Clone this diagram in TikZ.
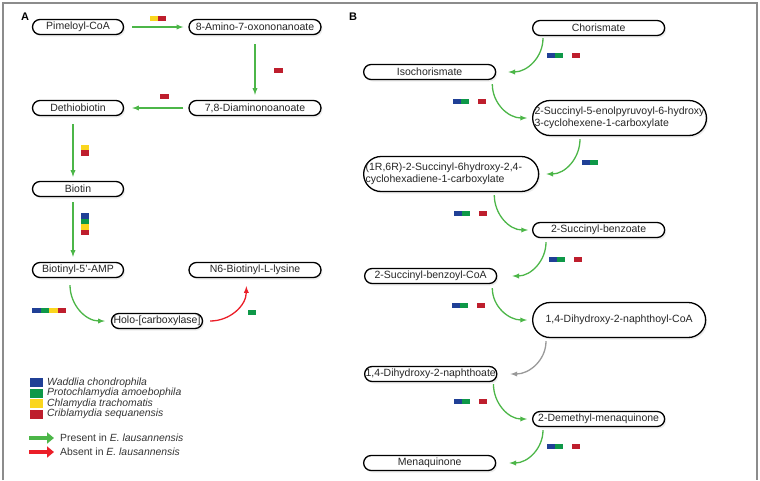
\documentclass[tikz,border=0pt]{standalone}
\usepackage{fontspec}
\setmainfont{Liberation Sans}
\usetikzlibrary{arrows, arrows.meta, positioning, shadows}
\definecolor{flowgreen}{RGB}{76,182,72}
\definecolor{lostred}{RGB}{235,30,40}
\definecolor{wblue}{RGB}{32,64,150}
\definecolor{pgreen}{RGB}{14,152,72}
\definecolor{cyellow}{RGB}{250,214,30}
\definecolor{cred}{RGB}{190,30,45}
\tikzset{
  met/.style     = {draw, rectangle, rounded corners=7.5pt, line width=1.3pt, minimum height=15pt, minimum width=91pt, inner xsep=1pt, inner ysep=0pt, fill=white, text=black!85, font=\fontsize{10.5}{11.5}\selectfont, drop shadow={opacity=0.15, shadow xshift=1.5pt, shadow yshift=-2pt}},
  widemet/.style = {met, minimum width=132pt},
  bigmet/.style  = {met, minimum height=35pt, minimum width=173pt, rounded corners=17.5pt},
  twomet/.style  = {bigmet, align=left, inner xsep=2pt},
  flow/.style    = {-latex, line width=1.3pt, flowgreen},
  lost/.style    = {flow, lostred},
  unknown/.style = {flow, black!40},
  keyarrow/.style = {line width=4.5pt, -{Triangle[length=7pt, width=11pt]}},
  legtext/.style = {anchor=west, inner sep=0pt, text=black!80, font=\fontsize{10.4}{12}\selectfont},
  panel/.style   = {inner sep=0pt, font=\fontsize{11}{13}\selectfont\bfseries},
  frame/.style   = {line width=1.5pt, black!45},
}
\begin{document}
\begin{tikzpicture}[x=1pt, y=-1pt, node distance=81pt]
    \useasboundingbox (0,0) rectangle (760,480);
    \draw [frame] (3,480) -- (3,3) -- (757,3) -- (757,480);
    \node (labA) [panel] at (25,17) {A};
    \node (labB) [panel] at (353,17) {B};

    % A: biotin
    \node (pim) [met] at (78,27) {Pimeloyl-CoA};
    \node (kapa) [widemet, right of=pim, xshift=96pt] {8-Amino-7-oxononanoate};
    \node (dapa) [widemet, below of=kapa] {7,8-Diaminonoanoate};
    \node (dtb) [met, below of=pim] {Dethiobiotin};
    \node (btn) [met, below of=dtb] {Biotin};
    \node (amp) [met, below of=btn] {Biotinyl-5'-AMP};
    \node (lys) [widemet, right of=amp, xshift=96pt] {N6-Biotinyl-L-lysine};
    \node (holo) [met, below of=amp, xshift=79pt, yshift=30pt] {Holo-[carboxylase]};

    \draw [flow, shorten <=8pt, shorten >=5pt] (pim) -- (kapa);
    \draw [flow, shorten <=9pt, shorten >=5pt] (kapa) -- (dapa);
    \draw [flow, shorten <=5pt, shorten >=8pt] (dapa) -- (dtb);
    \draw [flow, shorten <=8pt, shorten >=4pt] ([xshift=-5pt]dtb.south) -- ([xshift=-5pt]btn.north);
    \draw [flow, shorten <=5pt, shorten >=5pt] ([xshift=-5pt]btn.south) -- ([xshift=-5pt]amp.north);
    \draw [flow] ([xshift=-8pt,yshift=-7pt]amp.south) to [out=-90, in=180] ([xshift=-6pt]holo.west);
    \draw [lost] ([xshift=7pt]holo.east) to [out=0, in=-90] ([xshift=58pt,yshift=-8pt]lys.south west);

    \fill [cyellow] (150,16) rectangle ++(8,5);
    \fill [cred] (158,16) rectangle ++(8,5);
    \fill [cred] (274,68) rectangle ++(9,5);
    \fill [cred] (160,94) rectangle ++(9,5);
    \fill [cyellow] (81,145) rectangle ++(8,5);
    \fill [cred] (81,150) rectangle ++(8,5.5);
    \foreach \c [count=\i from 0] in {wblue,pgreen,cyellow,cred} {
        \fill [\c] (81,213+5.5*\i) rectangle ++(8,5.5);
        \fill [\c] (32+8.5*\i,308) rectangle ++(8.5,5);
    }
    \fill [pgreen] (248,310) rectangle ++(8,5);

    % legend
    \foreach \c/\name [count=\i from 0] in {wblue/Waddlia chondrophila, pgreen/Protochlamydia amoebophila, cyellow/Chlamydia trachomatis, cred/Criblamydia sequanensis} {
        \fill [\c] (30,378+10.5*\i) rectangle ++(13,9);
        \node (key\i) [legtext] at (47,382.5+10.5*\i) {\itshape\name};
    }
    \coordinate (gtail) at (29,438);
    \coordinate (rtail) at (29,452);
    \node (present) [legtext] at (60,438) {Present in \textit{E. lausannensis}};
    \node (absent) [legtext] at (60,452) {Absent in \textit{E. lausannensis}};
    \draw [keyarrow, flowgreen] (gtail) -- ([xshift=-6pt]present.west |- gtail);
    \draw [keyarrow, lostred] (rtail) -- ([xshift=-6pt]absent.west |- rtail);

    % B: menaquinone
    \node (chor) [widemet, anchor=west] at (532,28) {Chorismate};
    \node (iso) [widemet, anchor=west] at (363,72) {Isochorismate};
    \node (sephc) [twomet, anchor=west] at (532,118) {2-Succinyl-5-enolpyruvoyl-6-hydroxy\\3-cyclohexene-1-carboxylate};
    \node (shchc) [twomet, text width=171pt, anchor=west] at (363,174) {(1R,6R)-2-Succinyl-6hydroxy-2,4-\\cyclohexadiene-1-carboxylate};
    \node (osb) [widemet, anchor=west] at (532,230) {2-Succinyl-benzoate};
    \node (osbcoa) [widemet, anchor=west] at (364,276) {2-Succinyl-benzoyl-CoA};
    \node (dhnacoa) [bigmet, anchor=west] at (532,320) {1,4-Dihydroxy-2-naphthoyl-CoA};
    \node (dhna) [widemet, anchor=west] at (364,374) {1,4-Dihydroxy-2-naphthoate};
    \node (dmk) [widemet, anchor=west] at (532,419) {2-Demethyl-menaquinone};
    \node (mk) [widemet, anchor=west] at (363,463) {Menaquinone};

    \draw [flow] ([xshift=11pt,yshift=-2pt]chor.south west) to [out=-90, in=0] ([xshift=12pt]iso.east);
    \draw [flow] ([xshift=-4pt,yshift=-4pt]iso.south east) to [out=-90, in=180] ([xshift=-5pt]sephc.west);
    \draw [flow] ([xshift=48pt,yshift=-3pt]sephc.south west) to [out=-90, in=0] ([xshift=7pt]shchc.east);
    \draw [flow] ([xshift=-45pt,yshift=-3pt]shchc.south east) to [out=-90, in=180] ([xshift=-4pt]osb.west);
    \draw [flow] ([xshift=14pt,yshift=-4pt]osb.south west) to [out=-90, in=0] ([xshift=15pt]osbcoa.east);
    \draw [flow] ([xshift=-5pt,yshift=-4pt]osbcoa.south east) to [out=-90, in=180] ([xshift=-5pt]dhnacoa.west);
    \draw [unknown] ([xshift=14pt,yshift=-3pt]dhnacoa.south west) to [out=-90, in=0] ([xshift=13pt]dhna.east);
    \draw [flow] ([xshift=-4pt,yshift=-2pt]dhna.south east) to [out=-90, in=180] ([xshift=-5pt]dmk.west);
    \draw [flow] ([xshift=11pt,yshift=-3pt]dmk.south west) to [out=-90, in=0] ([xshift=13pt]mk.east);

    \foreach \x/\y in {547/53, 453/99, 454/211, 549/257, 452/303, 454/399, 547/444} {
        \fill [wblue] (\x,\y) rectangle ++(8,5);
        \fill [pgreen] (\x+8,\y) rectangle ++(8,5);
        \fill [cred] (\x+25,\y) rectangle ++(8,5);
    }
    \fill [wblue] (582,160) rectangle ++(8,5);
    \fill [pgreen] (590,160) rectangle ++(8,5);
\end{tikzpicture}
\end{document}
